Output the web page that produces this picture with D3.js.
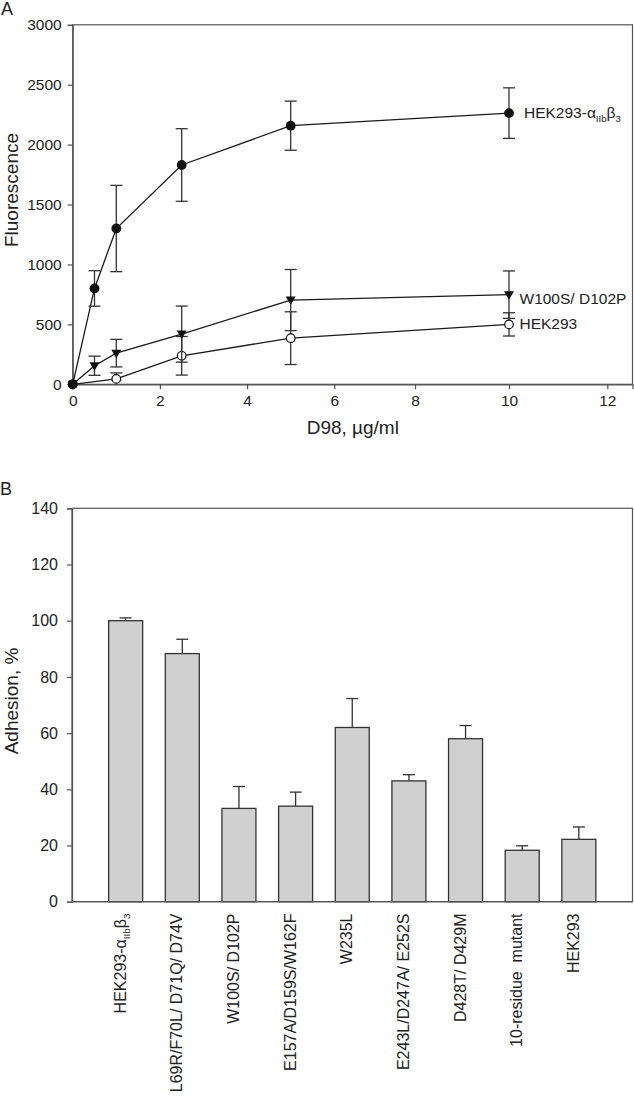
<!DOCTYPE html>
<html>
<head>
<meta charset="utf-8">
<script src="https://cdn.jsdelivr.net/npm/d3@7"></script>
<style>
  html, body { margin: 0; padding: 0; background: #fff; }
  svg { display: block; }
  text { font-family: "Liberation Sans", Arial, sans-serif; fill: #222; }
</style>
</head>
<body>
<svg id="chart" width="634" height="1100"></svg>
<script>
// ---------- Panel A data ----------
const xTicksA = [0, 2, 4, 6, 8, 10, 12];
const yTicksA = [0, 500, 1000, 1500, 2000, 2500, 3000];

const wtDose = [0, 0.5, 1, 2.5, 5, 10];
const wtMean = [0, 800, 1300, 1830, 2158, 2263];
const wtErr  = [0, 148, 360, 303, 205, 211];

const mutDose = [0, 0.5, 1, 2.5, 5, 10];
const mutMean = [0, 155, 260, 419, 703, 748];
const mutErr  = [0, 80, 115, 234, 255, 198];

const hekDose = [0, 1, 2.5, 5, 10];
const hekMean = [0, 45, 238, 385, 500];
const hekErr  = [0, 50, 161, 220, 97];

const seriesLabelsA = ["HEK293-α_{IIb}β_{3}", "W100S/ D102P", "HEK293"];

// ---------- Panel B data ----------
const categoriesB = [
  "HEK293-α_{IIb}β_{3}",
  "L69R/F70L/ D71Q/ D74V",
  "W100S/ D102P",
  "E157A/D159S/W162F",
  "W235L",
  "E243L/D247A/ E252S",
  "D428T/ D429M",
  "10-residue  mutant",
  "HEK293"
];
const adhesion = [100, 88.3, 33.2, 34.0, 62.0, 43.0, 58.0, 18.3, 22.2];
const adhesionErr = [1.0, 5.1, 7.8, 5.0, 10.3, 2.2, 4.7, 1.6, 4.4];
const yTicksB = [0, 20, 40, 60, 80, 100, 120, 140];

// ---------- helpers ----------
const svg = d3.select("#chart");
const FONT = "Liberation Sans, Arial, sans-serif";
const frameColor = "#555";
const inkColor = "#1a1a1a";

// render "text_{sub}" markup as tspans
function richText(sel, str, fs) {
  const parts = str.split(/(_\{[^}]*\})/).filter(s => s.length);
  let shifted = false;
  const subShift = fs * 0.28;
  parts.forEach(p => {
    if (p.startsWith("_{")) {
      sel.append("tspan").attr("font-size", fs * 0.62)
        .attr("dy", shifted ? 0 : subShift).text(p.slice(2, -1));
      shifted = true;
    } else {
      sel.append("tspan").attr("font-size", fs)
        .attr("dy", shifted ? -subShift : 0).text(p);
      shifted = false;
    }
  });
}

// ---------- Panel A ----------
const xA = d3.scaleLinear()
  .domain([0, 6, 8, 10, 12, 12.53])
  .range([72.7, 334.3, 415, 509, 607.3, 632.5]);
const yA = d3.scaleLinear().domain([0, 3000]).range([384.3, 24.8]);

const gA = svg.append("g");
// frame
gA.append("rect")
  .attr("x", xA(0)).attr("y", yA(3000))
  .attr("width", xA(12.53) - xA(0)).attr("height", yA(0) - yA(3000))
  .attr("fill", "none").attr("stroke", frameColor).attr("stroke-width", 1.2);

const axA_x = gA.append("g").attr("transform", `translate(0,${yA(0)})`)
  .call(d3.axisBottom(xA).tickValues(xTicksA).tickSize(5).tickPadding(6).tickFormat(d3.format("d")));
const axA_y = gA.append("g").attr("transform", `translate(${xA(0)},0)`)
  .call(d3.axisLeft(yA).tickValues(yTicksA).tickSize(5).tickPadding(6).tickFormat(d3.format("d")));
[axA_x, axA_y].forEach(a => {
  a.select(".domain").attr("stroke", frameColor).attr("stroke-width", 1.2);
  a.selectAll(".tick line").attr("stroke", frameColor).attr("stroke-width", 1.2);
  a.selectAll(".tick text").attr("font-family", FONT).attr("font-size", 15.5).attr("fill", "#222");
});

gA.append("text").attr("x", 352.8).attr("y", 434)
  .attr("text-anchor", "middle").attr("font-size", 19).text("D98, µg/ml");
gA.append("text").attr("transform", "translate(18,190) rotate(-90)")
  .attr("text-anchor", "middle").attr("font-size", 19).text("Fluorescence");
gA.append("text").attr("x", 1).attr("y", 15).attr("font-size", 18).text("A");

const line = d3.line().x(d => xA(d.x)).y(d => yA(d.y));
const capHalf = 6;

function drawSeries(dose, mean, err, marker) {
  const pts = dose.map((d, i) => ({ x: d, y: mean[i], e: err[i] }));
  const g = gA.append("g");
  g.append("path").datum(pts).attr("d", line)
    .attr("fill", "none").attr("stroke", inkColor).attr("stroke-width", 1.3);
  pts.filter(p => p.e > 0).forEach(p => {
    const cx = xA(p.x), y1 = yA(p.y + p.e), y0 = yA(Math.max(0, p.y - p.e));
    g.append("line").attr("x1", cx).attr("x2", cx).attr("y1", y1).attr("y2", y0)
      .attr("stroke", "#333").attr("stroke-width", 1.3);
    g.append("line").attr("x1", cx - capHalf).attr("x2", cx + capHalf).attr("y1", y1).attr("y2", y1)
      .attr("stroke", "#333").attr("stroke-width", 1.3);
    if (p.y - p.e > 0)
      g.append("line").attr("x1", cx - capHalf).attr("x2", cx + capHalf).attr("y1", y0).attr("y2", y0)
        .attr("stroke", "#333").attr("stroke-width", 1.3);
  });
  pts.forEach(p => {
    const cx = xA(p.x), cy = yA(p.y);
    if (marker === "filled") {
      g.append("circle").attr("cx", cx).attr("cy", cy).attr("r", 4.9).attr("fill", "#111");
    } else if (marker === "open") {
      g.append("circle").attr("cx", cx).attr("cy", cy).attr("r", 4.3)
        .attr("fill", "#fff").attr("stroke", "#111").attr("stroke-width", 1.2);
    } else {
      g.append("path").attr("d", `M${cx - 5},${cy - 3.5}L${cx + 5},${cy - 3.5}L${cx},${cy + 5}Z`)
        .attr("fill", "#111");
    }
  });
}
drawSeries(hekDose, hekMean, hekErr, "open");
drawSeries(mutDose, mutMean, mutErr, "tri");
drawSeries(wtDose, wtMean, wtErr, "filled");

// series labels
const labA = [
  { t: seriesLabelsA[0], x: 524, y: 118 },
  { t: seriesLabelsA[1], x: 519.5, y: 304 },
  { t: seriesLabelsA[2], x: 519.5, y: 329 }
];
labA.forEach(l => {
  const t = gA.append("text").attr("x", l.x).attr("y", l.y);
  richText(t, l.t, 15.5);
});

// ---------- Panel B ----------
const xB = d3.scaleBand().domain(categoriesB).range([72, 632.5])
  .paddingInner(0.4).paddingOuter(0.647);
const yB = d3.scaleLinear().domain([0, 140]).range([901.7, 508.3]);

const gB = svg.append("g");
gB.append("rect")
  .attr("x", 72).attr("y", yB(140))
  .attr("width", 632.5 - 72).attr("height", yB(0) - yB(140))
  .attr("fill", "none").attr("stroke", frameColor).attr("stroke-width", 1.2);

const axB_y = gB.append("g").attr("transform", "translate(72,0)")
  .call(d3.axisLeft(yB).tickValues(yTicksB).tickSize(5).tickPadding(9).tickFormat(d3.format("d")));
axB_y.select(".domain").attr("stroke", frameColor).attr("stroke-width", 1.2);
axB_y.selectAll(".tick line").attr("stroke", frameColor).attr("stroke-width", 1.2);
axB_y.selectAll(".tick text").attr("font-family", FONT).attr("font-size", 16).attr("fill", "#222");

gB.append("text").attr("transform", "translate(18,701) rotate(-90)")
  .attr("text-anchor", "middle").attr("font-size", 19).text("Adhesion, %");
gB.append("text").attr("x", 0).attr("y", 495).attr("font-size", 18).text("B");

categoriesB.forEach((c, i) => {
  const x0 = xB(c), bw = xB.bandwidth(), cx = x0 + bw / 2;
  const top = yB(adhesion[i]), et = yB(adhesion[i] + adhesionErr[i]);
  gB.append("line").attr("x1", cx).attr("x2", cx).attr("y1", top).attr("y2", et)
    .attr("stroke", "#333").attr("stroke-width", 1.3);
  gB.append("line").attr("x1", cx - 6).attr("x2", cx + 6).attr("y1", et).attr("y2", et)
    .attr("stroke", "#333").attr("stroke-width", 1.3);
  gB.append("rect").attr("x", x0).attr("y", top).attr("width", bw).attr("height", yB(0) - top)
    .attr("fill", "#d0d0d0").attr("stroke", "#333").attr("stroke-width", 1.3);
  const t = gB.append("text")
    .attr("transform", `translate(${cx},913.5) rotate(-90)`)
    .attr("text-anchor", "end").attr("dy", "0.36em")
    .style("white-space", "pre");
  richText(t, c, 16);
});
// redraw bottom axis line on top of bars
gB.append("line").attr("x1", 72).attr("x2", 632.5).attr("y1", yB(0)).attr("y2", yB(0))
  .attr("stroke", frameColor).attr("stroke-width", 1.2);
</script>
</body>
</html>
